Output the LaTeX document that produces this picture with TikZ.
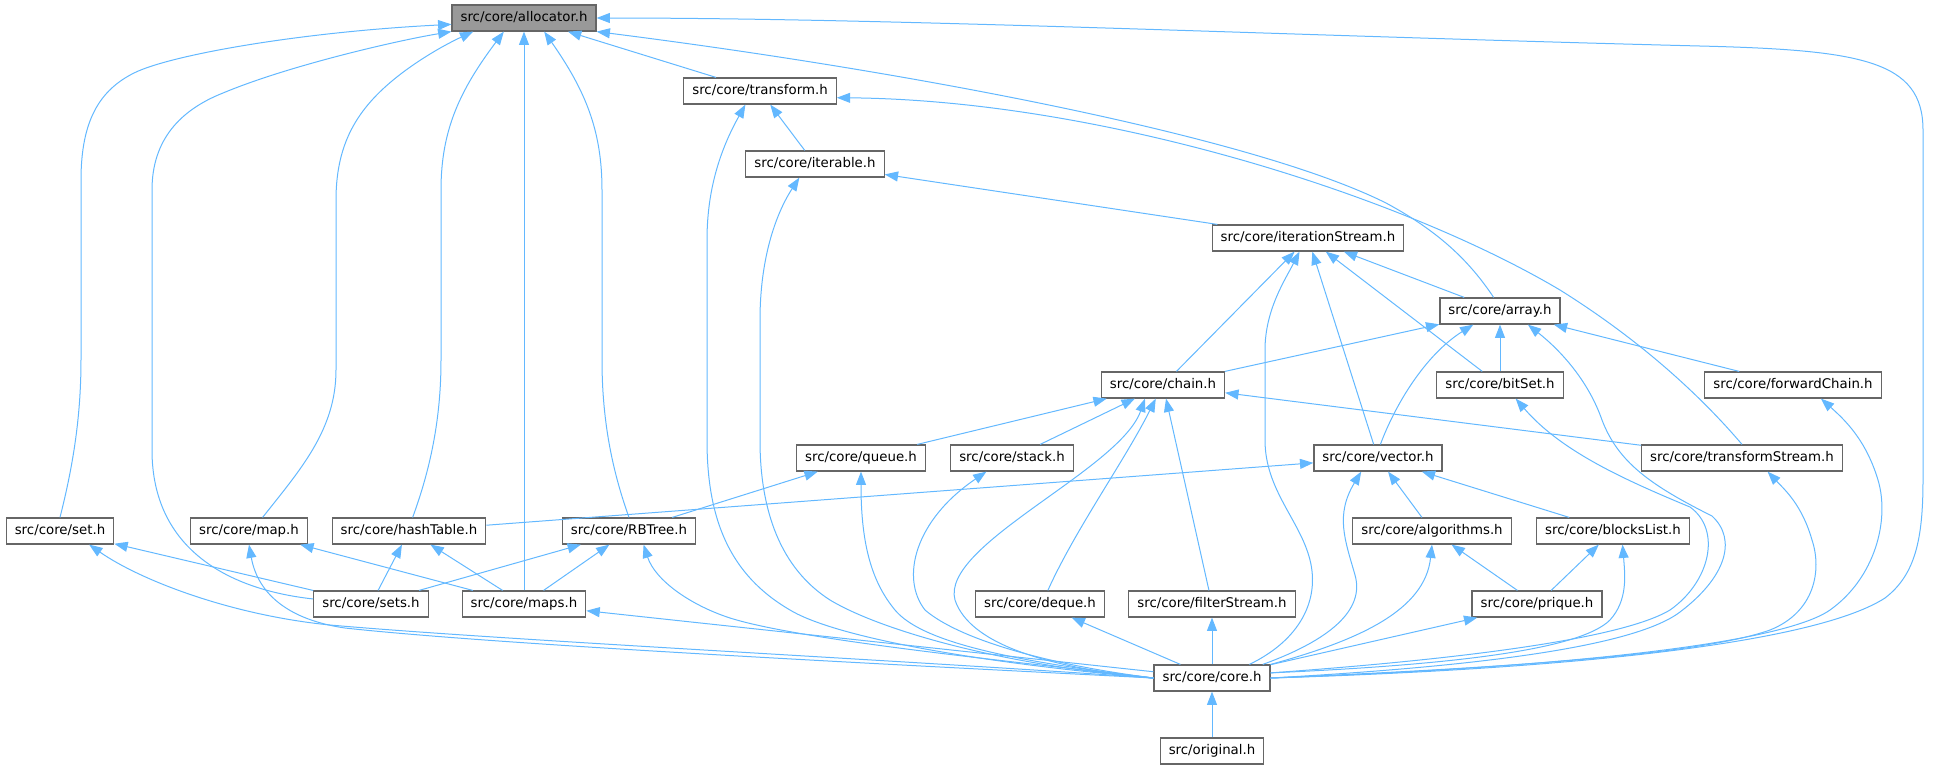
\documentclass[tikz,border=0pt]{standalone}
\usepackage{fontspec}
\setmainfont{DejaVu Sans}
\usetikzlibrary{arrows.meta}
\definecolor{edgeblue}{HTML}{63B8FF}
\definecolor{frame}{HTML}{666666}
\definecolor{rootfill}{HTML}{999999}

\begin{document}
\begin{tikzpicture}[x=0.75pt,y=-0.75pt,
  file/.style={
   draw=frame,
   line width=0.9pt,
   fill=white,
   font=\fontsize{10}{12}\selectfont,
   inner xsep=6.4pt,
   inner ysep=0pt,
   minimum height=19.5pt,
   text height=7.6pt,
   text depth=2.4pt
  },
  root/.style={
   file,
   fill=rootfill
  },
  dep/.style={
   draw=edgeblue,
   line width=0.75pt,
   -{Triangle[length=10pt,width=7.5pt]}
  }]
  \useasboundingbox (0,0) rectangle (1936,769);

  \node[root] (alloc) at (524,18) {src/core/allocator.h};
  \node[file] (transform) at (760,91) {src/core/transform.h};
  \node[file] (iterable) at (815,164) {src/core/iterable.h};
  \node[file] (iterStream) at (1308,238) {src/core/iterationStream.h};
  \node[file] (array) at (1500,311) {src/core/array.h};
  \node[file] (chain) at (1163,385) {src/core/chain.h};
  \node[file] (bitSet) at (1500,385) {src/core/bitSet.h};
  \node[file] (fwdChain) at (1793,385) {src/core/forwardChain.h};
  \node[file] (queue) at (861,458) {src/core/queue.h};
  \node[file] (stack) at (1012,458) {src/core/stack.h};
  \node[file] (vector) at (1378,458) {src/core/vector.h};
  \node[file] (tStream) at (1742,458) {src/core/transformStream.h};
  \node[file] (set) at (60,531) {src/core/set.h};
  \node[file] (map) at (249,531) {src/core/map.h};
  \node[file] (hashTable) at (409,531) {src/core/hashTable.h};
  \node[file] (RBTree) at (629,531) {src/core/RBTree.h};
  \node[file] (algorithms) at (1432,531) {src/core/algorithms.h};
  \node[file] (blocksList) at (1613,531) {src/core/blocksList.h};
  \node[file] (sets) at (371,604) {src/core/sets.h};
  \node[file] (maps) at (524,604) {src/core/maps.h};
  \node[file] (deque) at (1040,604) {src/core/deque.h};
  \node[file] (filterStream) at (1212,604) {src/core/filterStream.h};
  \node[file] (prique) at (1537,604) {src/core/prique.h};
  \node[file] (core) at (1212,678) {src/core/core.h};
  \node[file] (original) at (1212,751) {src/original.h};

  \draw[dep] (transform) -- (alloc);
  \draw[dep] (maps) -- (alloc);
  \draw[dep] (iterable) -- (transform);
  \draw[dep] (iterStream) -- (iterable);
  \draw[dep] (chain) -- (iterStream);
  \draw[dep] (vector) -- (iterStream);
  \draw[dep] (bitSet) -- (iterStream);
  \draw[dep] (array) -- (iterStream);
  \draw[dep] (chain) -- (array);
  \draw[dep] (bitSet) -- (array);
  \draw[dep] (fwdChain) -- (array);
  \draw[dep] (queue) -- (chain);
  \draw[dep] (stack) -- (chain);
  \draw[dep] (filterStream) -- (chain);
  \draw[dep] (tStream) -- (chain);
  \draw[dep] (hashTable) -- (vector);
  \draw[dep] (algorithms) -- (vector);
  \draw[dep] (blocksList) -- (vector);
  \draw[dep] (RBTree) -- (queue);
  \draw[dep] (sets) -- (set);
  \draw[dep] (maps) -- (map);
  \draw[dep] (sets) -- (hashTable);
  \draw[dep] (maps) -- (hashTable);
  \draw[dep] (sets) -- (RBTree);
  \draw[dep] (maps) -- (RBTree);
  \draw[dep] (prique) -- (algorithms);
  \draw[dep] (prique) -- (blocksList);
  \draw[dep] (core) -- (maps);
  \draw[dep] (core) -- (deque);
  \draw[dep] (core) -- (filterStream);
  \draw[dep] (core) -- (prique);
  \draw[dep] (original) -- (core);

  \draw[dep] (deque.60) .. controls (1075,530) and (1125,460) .. (chain.242);
  \draw[dep] (vector.80) .. controls (1395,405) and (1425,355) .. (array.207);

  \draw[dep] (set.north) .. controls (72,470) and (81,420) .. (81,360) -- (81,180) .. controls (81,120) and (100,90) .. (134,73) .. controls (170,55) and (300,32) .. (alloc.185);
  \draw[dep] (sets.175) .. controls (230,590) and (152,550) .. (152,450) -- (152,190) .. controls (152,140) and (180,110) .. (223,93) .. controls (290,65) and (400,40) .. (alloc.south west);
  \draw[dep] (map.45) .. controls (300,470) and (336,430) .. (336,370) -- (336,200) .. controls (336,140) and (360,105) .. (402,73) .. controls (430,52) and (455,40) .. (alloc.195);
  \draw[dep] (hashTable.75) .. controls (430,470) and (441,420) .. (441,360) -- (441,190) .. controls (441,130) and (460,90) .. (alloc.214);
  \draw[dep] (RBTree.north) .. controls (612,470) and (602,420) .. (602,360) -- (602,190) .. controls (602,130) and (585,90) .. (alloc.326);
  \draw[dep] (array.115) .. controls (1470,262) and (1440,232) .. (1386,203) .. controls (1250,135) and (900,70) .. (alloc.south east);
  \draw[dep] (tStream.north) .. controls (1700,395) and (1640,340) .. (1560,290) .. controls (1400,195) and (1100,100) .. (transform.355);
  \draw[dep] (core.east) .. controls (1600,668) and (1820,640) .. (1885,598) .. controls (1915,575) and (1923,540) .. (1923,480) -- (1923,130) .. controls (1923,60) and (1860,50) .. (1700,46) .. controls (1300,36) and (900,18) .. (alloc.east);

  \draw[dep] (core.west) .. controls (1000,665) and (840,640) .. (790,610) .. controls (730,575) and (707,520) .. (707,440) -- (707,240) .. controls (707,190) and (720,150) .. (transform.223);
  \draw[dep] (core.west) .. controls (1000,665) and (880,630) .. (830,600) .. controls (780,568) and (760,510) .. (760,440) -- (760,320) .. controls (760,260) and (775,215) .. (iterable.221);
  \draw[dep] (core.west) .. controls (900,660) and (500,640) .. (330,625) .. controls (230,615) and (140,580) .. (set.335);
  \draw[dep] (core.west) .. controls (900,665) and (500,645) .. (345,628) .. controls (290,620) and (258,595) .. (map.south);
  \draw[dep] (core.west) .. controls (1000,660) and (800,640) .. (730,618) .. controls (690,605) and (655,580) .. (RBTree.317);
  \draw[dep] (core.west) .. controls (1000,660) and (920,640) .. (895,610) .. controls (870,580) and (861,540) .. (queue.south);
  \draw[dep] (core.west) .. controls (1050,665) and (960,640) .. (925,610) .. controls (900,578) and (915,520) .. (stack.208);
  \draw[dep] (core.west) .. controls (1050,668) and (970,645) .. (955,600) .. controls (940,545) and (1120,470) .. (chain.217);
  \draw[dep] (core.20) .. controls (1300,640) and (1320,600) .. (1310,560) .. controls (1300,520) and (1265,490) .. (1265,440) -- (1265,350) .. controls (1265,310) and (1285,280) .. (iterStream.238);
  \draw[dep] (core.15) .. controls (1330,640) and (1365,610) .. (1355,575) .. controls (1345,540) and (1335,515) .. (vector.219);
  \draw[dep] (core.north east) .. controls (1360,640) and (1425,610) .. (algorithms.south);
  \draw[dep] (core.5) .. controls (1450,665) and (1580,650) .. (1610,620) .. controls (1628,600) and (1625,575) .. (blocksList.305);
  \draw[dep] (core.5) .. controls (1450,660) and (1620,640) .. (1670,610) .. controls (1710,582) and (1722,530) .. (1690,507) .. controls (1620,478) and (1560,450) .. (bitSet.319);
  \draw[dep] (core.east) .. controls (1450,668) and (1630,650) .. (1680,612) .. controls (1725,578) and (1738,540) .. (1712,516) .. controls (1650,485) and (1618,462) .. (1602,420) .. controls (1588,380) and (1560,350) .. (array.334);
  \draw[dep] (core.east) .. controls (1550,668) and (1780,645) .. (1830,610) .. controls (1875,578) and (1890,520) .. (1878,480) .. controls (1866,440) and (1845,420) .. (fwdChain.334);
  \draw[dep] (core.east) .. controls (1500,668) and (1700,655) .. (1770,630) .. controls (1815,612) and (1822,570) .. (1812,540) .. controls (1802,505) and (1785,490) .. (tStream.332);
\end{tikzpicture}
\end{document}
